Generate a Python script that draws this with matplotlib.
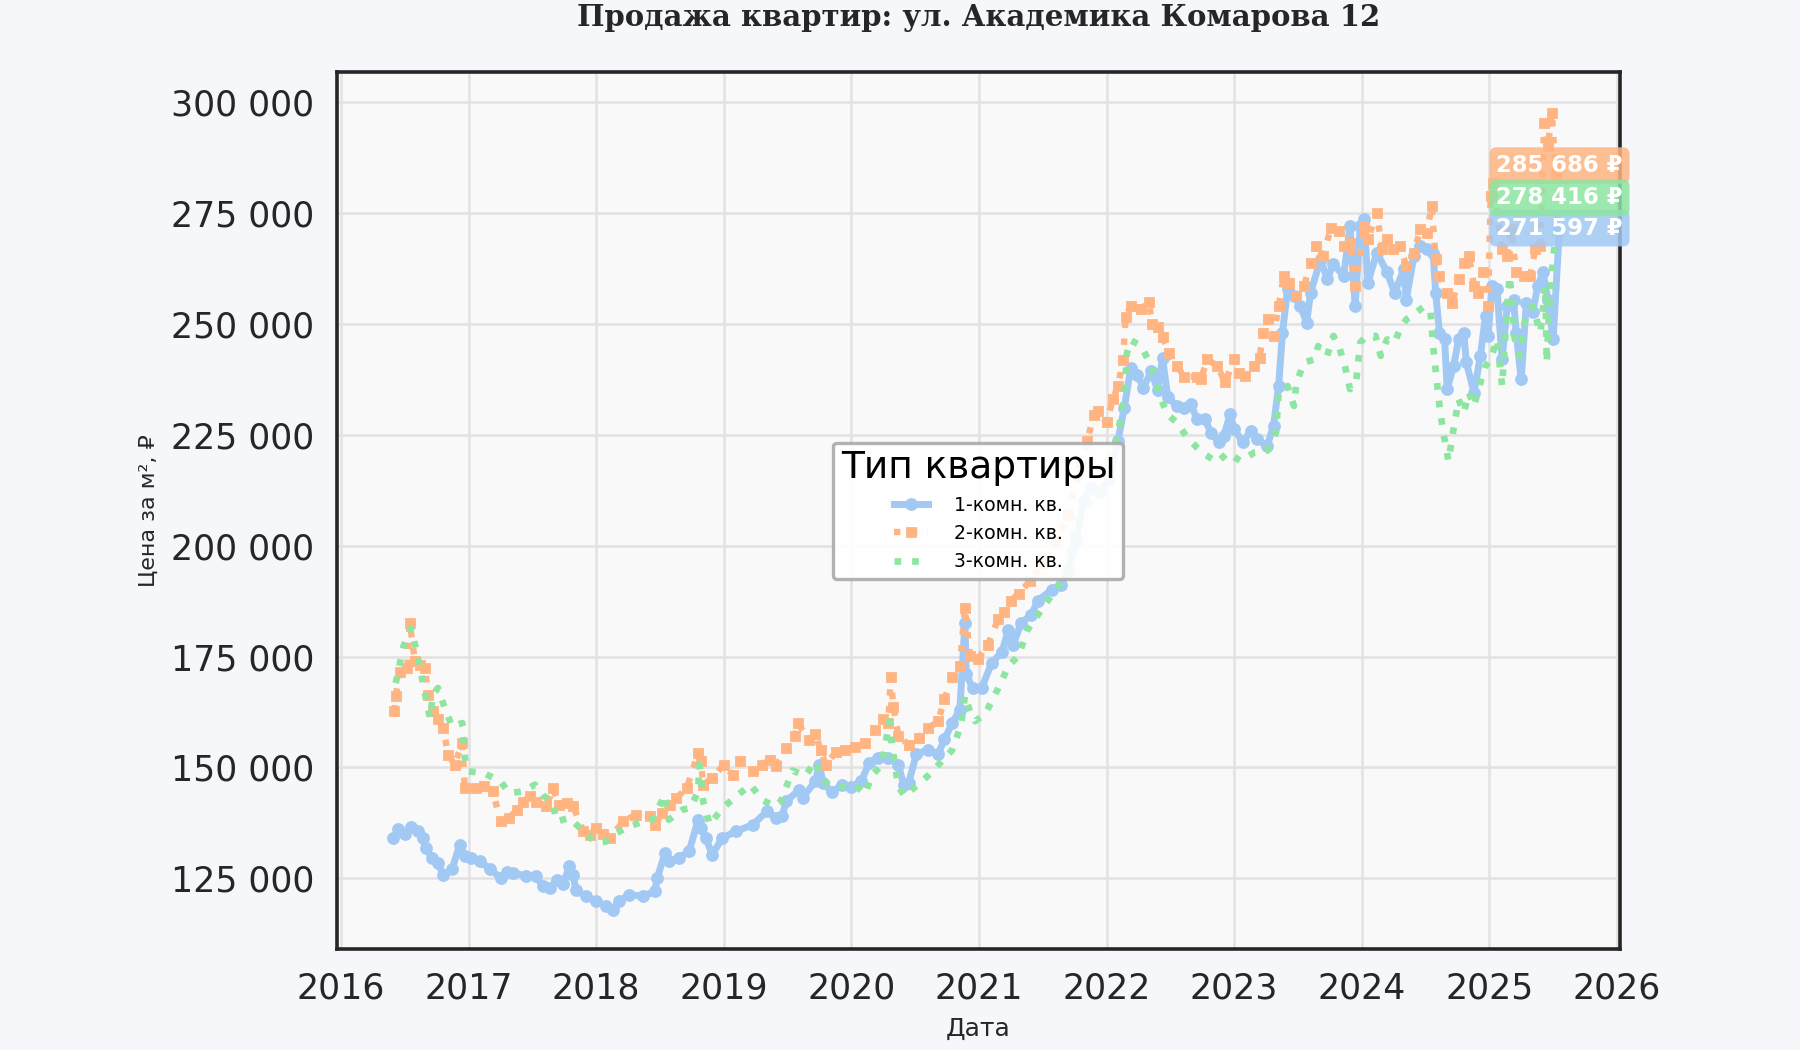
import pandas as pd
import numpy as np
import matplotlib.pyplot as plt
import matplotlib.dates as mdates
from matplotlib.ticker import FuncFormatter


# Series (decimal year, price per m2)
one_room_t = [
    2016.41, 2016.45, 2016.50, 2016.55, 2016.60, 2016.64, 2016.67, 2016.71, 2016.76, 2016.80,
    2016.87, 2016.93, 2016.97, 2017.02, 2017.09, 2017.17, 2017.25, 2017.30, 2017.35, 2017.45,
    2017.53, 2017.58, 2017.64, 2017.69, 2017.74, 2017.79, 2017.82, 2017.84, 2017.92, 2018.00,
    2018.08, 2018.13, 2018.18, 2018.26, 2018.37, 2018.46, 2018.48, 2018.54, 2018.57, 2018.65,
    2018.73, 2018.80, 2018.82, 2018.86, 2018.91, 2018.99, 2019.10, 2019.23, 2019.34, 2019.41,
    2019.46, 2019.49, 2019.59, 2019.62, 2019.72, 2019.75, 2019.78, 2019.85, 2019.93, 2020.00,
    2020.08, 2020.14, 2020.21, 2020.29, 2020.37, 2020.41, 2020.45, 2020.51, 2020.60, 2020.68,
    2020.73, 2020.79, 2020.85, 2020.89, 2020.90, 2020.95, 2021.02, 2021.10, 2021.18, 2021.23,
    2021.27, 2021.33, 2021.41, 2021.46, 2021.57, 2021.64, 2021.70, 2021.76, 2021.82, 2021.88,
    2021.95, 2022.02, 2022.09, 2022.14, 2022.19, 2022.24, 2022.29, 2022.35, 2022.40, 2022.44,
    2022.48, 2022.55, 2022.61, 2022.66, 2022.71, 2022.77, 2022.82, 2022.88, 2022.92, 2022.97,
    2023.00, 2023.07, 2023.13, 2023.18, 2023.26, 2023.31, 2023.35, 2023.38, 2023.42, 2023.47,
    2023.52, 2023.57, 2023.60, 2023.68, 2023.73, 2023.78, 2023.86, 2023.91, 2023.95, 2023.99,
    2024.02, 2024.05, 2024.12, 2024.20, 2024.26, 2024.33, 2024.35, 2024.41, 2024.46, 2024.51,
    2024.56, 2024.58, 2024.61, 2024.65, 2024.67, 2024.72, 2024.76, 2024.80, 2024.82, 2024.88,
    2024.93, 2024.97, 2024.99, 2025.02, 2025.06, 2025.10, 2025.14, 2025.19, 2025.21, 2025.25,
    2025.29, 2025.34, 2025.38, 2025.42, 2025.46, 2025.50, 2025.55,
]
one_room_v = [
    134000, 136000, 135000, 136500, 135600, 134000, 131800, 129600, 128500, 125800,
    127000, 132600, 130000, 129600, 128800, 127000, 125100, 126500, 126200, 125500,
    125500, 123200, 122800, 124700, 123600, 127700, 125800, 122400, 120900, 119800,
    118700, 117900, 119800, 121300, 120900, 122100, 125100, 130700, 128800, 129600,
    131100, 138200, 136300, 134100, 130300, 134100, 135600, 137100, 140100, 138600,
    139000, 142400, 144800, 143200, 146900, 150600, 146500, 144400, 146100, 145600,
    146900, 151000, 152200, 152200, 150600, 146100, 146500, 153000, 153900, 153000,
    156300, 160000, 162900, 182600, 171100, 167800, 167800, 173600, 176000, 181000,
    177700, 182600, 184300, 187600, 190000, 191200, 194100, 201000, 210000, 213000,
    212000, 215000, 223700, 231100, 240100, 238500, 235600, 239300, 235200, 242200,
    233600, 231500, 231000, 231900, 228600, 228500, 225500, 223300, 224800, 229600,
    226300, 223300, 225900, 224000, 222500, 227000, 236000, 248000, 257800, 256300,
    254000, 250300, 257000, 264600, 260100, 263500, 260800, 272100, 254000, 272100,
    273600, 259300, 266100, 261600, 257000, 262300, 255500, 265300, 267600, 266800,
    266100, 257000, 248000, 246500, 235300, 240500, 246500, 248000, 241300, 234500,
    242800, 251800, 247300, 258600, 257800, 242000, 254000, 255500, 248000, 237500,
    254800, 252600, 258600, 261600, 255500, 246500, 271597,
]

two_room_t = [
    2016.42, 2016.43, 2016.46, 2016.52, 2016.54, 2016.58, 2016.62, 2016.66, 2016.68, 2016.72,
    2016.76, 2016.80, 2016.84, 2016.89, 2016.95, 2016.97, 2017.06, 2017.12, 2017.19, 2017.25,
    2017.32, 2017.38, 2017.43, 2017.48, 2017.53, 2017.61, 2017.66, 2017.71, 2017.77, 2017.82,
    2017.90, 2017.95, 2018.00, 2018.05, 2018.11, 2018.21, 2018.31, 2018.42, 2018.46, 2018.52,
    2018.58, 2018.63, 2018.71, 2018.80, 2018.82, 2018.84, 2018.91, 2019.00, 2019.07, 2019.13,
    2019.23, 2019.30, 2019.36, 2019.41, 2019.49, 2019.56, 2019.58, 2019.67, 2019.72, 2019.76,
    2019.80, 2019.88, 2019.95, 2020.03, 2020.11, 2020.19, 2020.25, 2020.29, 2020.31, 2020.33,
    2020.37, 2020.45, 2020.53, 2020.60, 2020.68, 2020.73, 2020.79, 2020.85, 2020.89, 2020.93,
    2020.99, 2021.07, 2021.15, 2021.20, 2021.25, 2021.31, 2021.40, 2021.50, 2021.60, 2021.70,
    2021.80, 2021.85, 2021.90, 2021.93, 2022.00, 2022.05, 2022.09, 2022.13, 2022.15, 2022.19,
    2022.27, 2022.33, 2022.36, 2022.40, 2022.44, 2022.49, 2022.55, 2022.61, 2022.71, 2022.74,
    2022.79, 2022.87, 2022.93, 2023.00, 2023.04, 2023.09, 2023.16, 2023.20, 2023.23, 2023.27,
    2023.31, 2023.35, 2023.39, 2023.43, 2023.49, 2023.55, 2023.60, 2023.64, 2023.70, 2023.76,
    2023.82, 2023.86, 2023.91, 2023.95, 2024.02, 2024.05, 2024.12, 2024.16, 2024.20, 2024.25,
    2024.30, 2024.35, 2024.41, 2024.46, 2024.51, 2024.55, 2024.58, 2024.61, 2024.67, 2024.71,
    2024.76, 2024.80, 2024.84, 2024.88, 2024.91, 2024.95, 2024.99, 2025.01, 2025.03, 2025.10,
    2025.14, 2025.17, 2025.21, 2025.27, 2025.32, 2025.36, 2025.40, 2025.43, 2025.46, 2025.49,
    2025.52, 2025.55,
]
two_room_v = [
    162600, 166000, 171600, 172400, 182500, 173900, 173000, 172400, 166400, 162600,
    161000, 158900, 152900, 150600, 155500, 145300, 145300, 145800, 144600, 137800,
    138600, 140500, 142300, 143500, 142300, 141200, 145300, 141600, 142000, 141200,
    135600, 134800, 136300, 135000, 134100, 137800, 139300, 139000, 137100, 139700,
    141500, 143100, 145300, 153200, 151400, 146100, 147600, 150600, 148300, 151400,
    149100, 150500, 151700, 150200, 154300, 157100, 160000, 156200, 157600, 153900,
    150600, 153400, 153900, 154700, 155500, 158400, 160800, 160000, 170300, 163700,
    157100, 155100, 156700, 158800, 160400, 165400, 170300, 172800, 185900, 175200,
    174400, 177700, 183400, 185100, 187600, 189200, 192000, 196000, 201000, 207000,
    218000, 223700, 229500, 230300, 227800, 233000, 236000, 241800, 251600, 254100,
    253300, 254900, 250000, 249200, 247100, 243400, 240600, 238100, 238100, 237500,
    242000, 240500, 236800, 242000, 239000, 238300, 240500, 242400, 248000, 251000,
    247300, 254000, 260800, 259300, 256300, 258600, 263800, 267600, 265300, 271700,
    270900, 267600, 268300, 258600, 272100, 269100, 275100, 266800, 269100, 266800,
    267600, 263100, 266100, 271300, 270600, 276600, 264600, 260800, 257000, 254800,
    260100, 263800, 265300, 258600, 257000, 261600, 254000, 278800, 281800, 266800,
    265300, 271300, 261600, 260800, 260800, 266800, 267600, 295300, 290100, 297600,
    284100, 285686,
]

three_room_t = [
    2016.43, 2016.49, 2016.55, 2016.59, 2016.61, 2016.68, 2016.70, 2016.72, 2016.76, 2016.80,
    2016.87, 2016.95, 2016.97, 2017.00, 2017.12, 2017.25, 2017.32, 2017.43, 2017.52, 2017.58,
    2017.66, 2017.69, 2017.79, 2017.90, 2018.00, 2018.08, 2018.16, 2018.26, 2018.37, 2018.44,
    2018.54, 2018.57, 2018.68, 2018.74, 2018.80, 2018.81, 2018.84, 2018.89, 2018.99, 2019.10,
    2019.21, 2019.30, 2019.40, 2019.45, 2019.54, 2019.64, 2019.72, 2019.77, 2019.85, 2019.93,
    2020.03, 2020.11, 2020.16, 2020.24, 2020.30, 2020.32, 2020.37, 2020.42, 2020.50, 2020.60,
    2020.71, 2020.79, 2020.86, 2020.89, 2020.93, 2020.97, 2021.05, 2021.15, 2021.23, 2021.31,
    2021.38, 2021.46, 2021.54, 2021.62, 2021.67, 2021.77, 2021.90, 2022.00, 2022.05, 2022.09,
    2022.14, 2022.16, 2022.19, 2022.27, 2022.35, 2022.42, 2022.48, 2022.55, 2022.63, 2022.71,
    2022.77, 2022.87, 2022.95, 2023.05, 2023.16, 2023.26, 2023.33, 2023.35, 2023.42, 2023.47,
    2023.49, 2023.55, 2023.63, 2023.66, 2023.73, 2023.78, 2023.83, 2023.87, 2023.91, 2023.96,
    2023.99, 2024.04, 2024.11, 2024.15, 2024.20, 2024.26, 2024.30, 2024.35, 2024.43, 2024.49,
    2024.54, 2024.56, 2024.59, 2024.61, 2024.64, 2024.68, 2024.72, 2024.76, 2024.80, 2024.84,
    2024.88, 2024.93, 2024.97, 2025.01, 2025.06, 2025.10, 2025.14, 2025.16, 2025.20, 2025.24,
    2025.29, 2025.34, 2025.40, 2025.44, 2025.45, 2025.47, 2025.50, 2025.55,
]
three_room_v = [
    169000, 177300, 181400, 176500, 173900, 163400, 161100, 166400, 167900, 164500,
    159200, 160000, 152100, 149100, 148700, 146800, 144200, 144600, 146100, 143800,
    142000, 137800, 138600, 135600, 133000, 133300, 135200, 136700, 137800, 138200,
    143800, 138200, 140500, 140800, 144600, 150600, 142300, 137100, 140800, 143500,
    146100, 142700, 141200, 142400, 149300, 148100, 151400, 147300, 145600, 145600,
    146000, 144000, 148100, 150600, 160400, 154700, 145600, 143500, 145600, 148100,
    151400, 153900, 159600, 166200, 162500, 160400, 162100, 167800, 172800, 175200,
    181000, 184300, 187600, 190800, 193300, 205600, 210600, 213800, 221200, 225300,
    233600, 243400, 246300, 245100, 240600, 233600, 229500, 227800, 224500, 222100,
    220600, 218800, 221000, 219100, 221000, 221400, 225500, 234500, 236000, 231500,
    236800, 241300, 242000, 245000, 242800, 247300, 244300, 240500, 235300, 237500,
    245800, 247300, 247300, 242800, 246500, 245800, 248800, 251000, 252600, 254000,
    252600, 245000, 236800, 231500, 225500, 219100, 226300, 233000, 230000, 234500,
    231500, 236800, 240500, 242000, 246500, 236000, 254000, 260800, 246500, 242800,
    252600, 254000, 248000, 258600, 241300, 254000, 264600, 278416,
]

labels = ['1-комн. кв.', '2-комн. кв.', '3-комн. кв.']
colors = ['#a1c9f4', '#ffb482', '#8de5a1']


def to_dates(years):
    out = []
    for y in years:
        yr = int(y)
        start = pd.Timestamp(year=yr, month=1, day=1)
        days = (pd.Timestamp(year=yr + 1, month=1, day=1) - start).days
        out.append(start + pd.Timedelta(days=(y - yr) * days))
    return out


def fmt_rub(x, pos=None):
    return f"{x:,.0f}".replace(",", " ")


fig, ax = plt.subplots(figsize=(9, 5.25), dpi=200)
fig.patch.set_facecolor('#f5f7fa')
ax.set_facecolor('#f9f9f9')
left, right = 0.187, 0.900
fig.subplots_adjust(left=left, right=right, top=0.931, bottom=0.096)

series = [(one_room_t, one_room_v), (two_room_t, two_room_v), (three_room_t, three_room_v)]
styles = [
    dict(linestyle='-', linewidth=2.5, marker='o', markersize=3.6),
    dict(linestyle=':', linewidth=2.3, marker='s', markersize=2.6),
    dict(linestyle=':', linewidth=2.4, marker=None),
]
for (t, v), lab, col, st in zip(series, labels, colors, styles):
    ax.plot(to_dates(t), v, color=col, label=lab, zorder=3, **st)

# подписи последних значений
for (t, v), col in zip(series, colors):
    d = to_dates(t)[-1]
    ax.text(d, v[-1], f"{fmt_rub(v[-1])} ₽", ha='center', va='center',
            color='white', fontsize=8.2, fontweight='bold', zorder=6, clip_on=False,
            bbox=dict(boxstyle='round,pad=0.3', fc=col, ec='none', alpha=0.85))

ax.set_xlim(pd.Timestamp('2015-12-20'), pd.Timestamp('2026-01-10'))
ax.set_ylim(109000, 306700)
ax.xaxis.set_major_locator(mdates.YearLocator())
ax.xaxis.set_major_formatter(mdates.DateFormatter('%Y'))
ax.yaxis.set_major_formatter(FuncFormatter(fmt_rub))
ax.tick_params(axis='both', labelsize=12.5, colors='#262626', length=0, pad=8)

ax.grid(True, color='#e2e2e2', linewidth=0.9, zorder=0)
ax.set_axisbelow(True)
for sp in ax.spines.values():
    sp.set_color('#262626')
    sp.set_linewidth(1.3)

ax.set_xlabel('Дата', fontsize=9, color='#262626', labelpad=4)
ax.set_ylabel('Цена за м², ₽', fontsize=8, color='#262626', labelpad=4.5)
fig.suptitle('Продажа квартир: ул. Академика Комарова 12', fontsize=10.5,
             fontweight='bold', family='DejaVu Serif', color='#262626',
             x=(left + right) / 2, y=0.983, va='center')

leg = ax.legend(title='Тип квартиры', loc='center', fontsize=6.8, title_fontsize=13.5,
                frameon=True, fancybox=True, framealpha=0.9, edgecolor='#aaaaaa',
                facecolor='white', handlelength=1.8, handletextpad=1.4, borderpad=0.4)
leg.get_frame().set_linewidth(1.2)
leg.set_zorder(5)

plt.savefig('out.png', dpi=200, facecolor=fig.get_facecolor())
